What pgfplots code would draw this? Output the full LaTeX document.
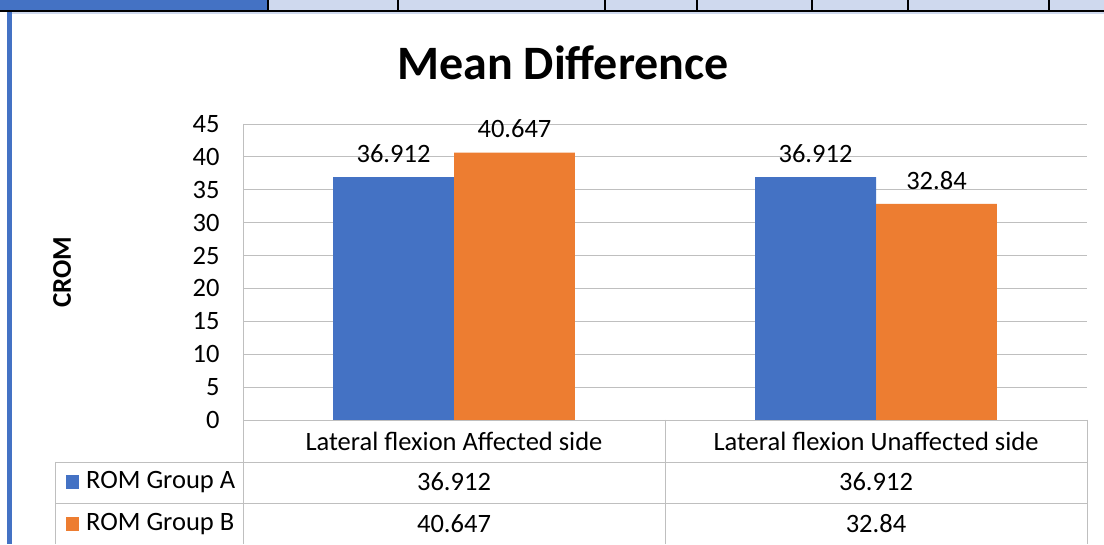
\documentclass[border=0pt]{standalone}
\usepackage{pgfplots}
\pgfplotsset{compat=1.18}
\usepackage{fontspec}
\setmainfont{Carlito}
\definecolor{cblue}{HTML}{4472C4}
\definecolor{corange}{HTML}{ED7D31}
\definecolor{cgrid}{HTML}{BFBFBF}
\definecolor{clight}{HTML}{CFD9EE}
\newcommand{\fs}[1]{\fontsize{#1}{#1}\selectfont}
\begin{document}
\begin{tikzpicture}[x=1pt,y=1pt]
\useasboundingbox (0,0) rectangle (1104,544);
\clip (0,0) rectangle (1104,544);
\fill[white] (0,0) rectangle (1104,544);
% top strip
\fill[clight] (0,534) rectangle (1104,544);
\fill[cblue] (0,534) rectangle (268,544);
\foreach \x in {268,398,605,697,812,908,1049} \draw[black,line width=1.2pt] (\x,534) -- (\x,544);
\fill[black] (0,531.5) rectangle (1104,534);
\fill[clight] (12,529.5) rectangle (1104,531.5);
\fill[cblue] (7,0) rectangle (12,531.5);
% title and y label
\node[font=\fs{48}\bfseries] at (563,481) {Mean Difference};
\node[font=\fs{27}\bfseries, rotate=90] at (62,272) {CROM};
\begin{axis}[
  at={(243pt,124pt)}, anchor=south west, scale only axis,
  width=844pt, height=296pt,
  xmin=-0.5, xmax=1.5, ymin=0, ymax=45,
  ytick={0,5,...,45}, xtick=\empty,
  ymajorgrids, grid style={cgrid, line width=0.8pt},
  axis line style={draw=none},
  major tick length=0pt,
  tick label style={font=\fs{26.5}},
  /pgf/number format/assume math mode=true,
  yticklabel style={anchor=east, xshift=-20pt},
  ybar=0pt,
  bar width=0.2867,
  point meta=explicit symbolic,
  nodes near coords,
  every node near coord/.append style={font=\fs{26.5}, anchor=south, yshift=11pt},
  clip=false,
]
\addplot[fill=cblue, draw=none] coordinates {(0,36.912) [36.912] (1,36.912) [36.912]};
\addplot[fill=corange, draw=none] coordinates {(0,40.647) [40.647] (1,32.84) [32.84]};
\end{axis}
% data table
\begin{scope}[cgrid, line width=0.8pt]
\draw (243,420) -- (243,0);
\draw (243,124) -- (1087,124);
\draw (665,124) -- (665,0);
\draw (1087,124) -- (1087,0);
\draw (55,82) -- (1087,82);
\draw (55,41) -- (1087,41);
\draw (55,82) -- (55,0);
\end{scope}
\node[font=\fs{26.5}] at (454,103) {Lateral flexion Affected side};
\node[font=\fs{26.5}] at (876,103) {Lateral flexion Unaffected side};
\fill[cblue] (66,55) rectangle (79,69);
\fill[corange] (66,13) rectangle (79,27);
\node[font=\fs{26.5}, anchor=west, inner sep=0pt] at (86,62) {ROM Group A};
\node[font=\fs{26.5}, anchor=west, inner sep=0pt] at (86,20) {ROM Group B};
\node[font=\fs{26.5}] at (454,62) {36.912};
\node[font=\fs{26.5}] at (876,62) {36.912};
\node[font=\fs{26.5}] at (454,20) {40.647};
\node[font=\fs{26.5}] at (876,20) {32.84};
\end{tikzpicture}
\end{document}
